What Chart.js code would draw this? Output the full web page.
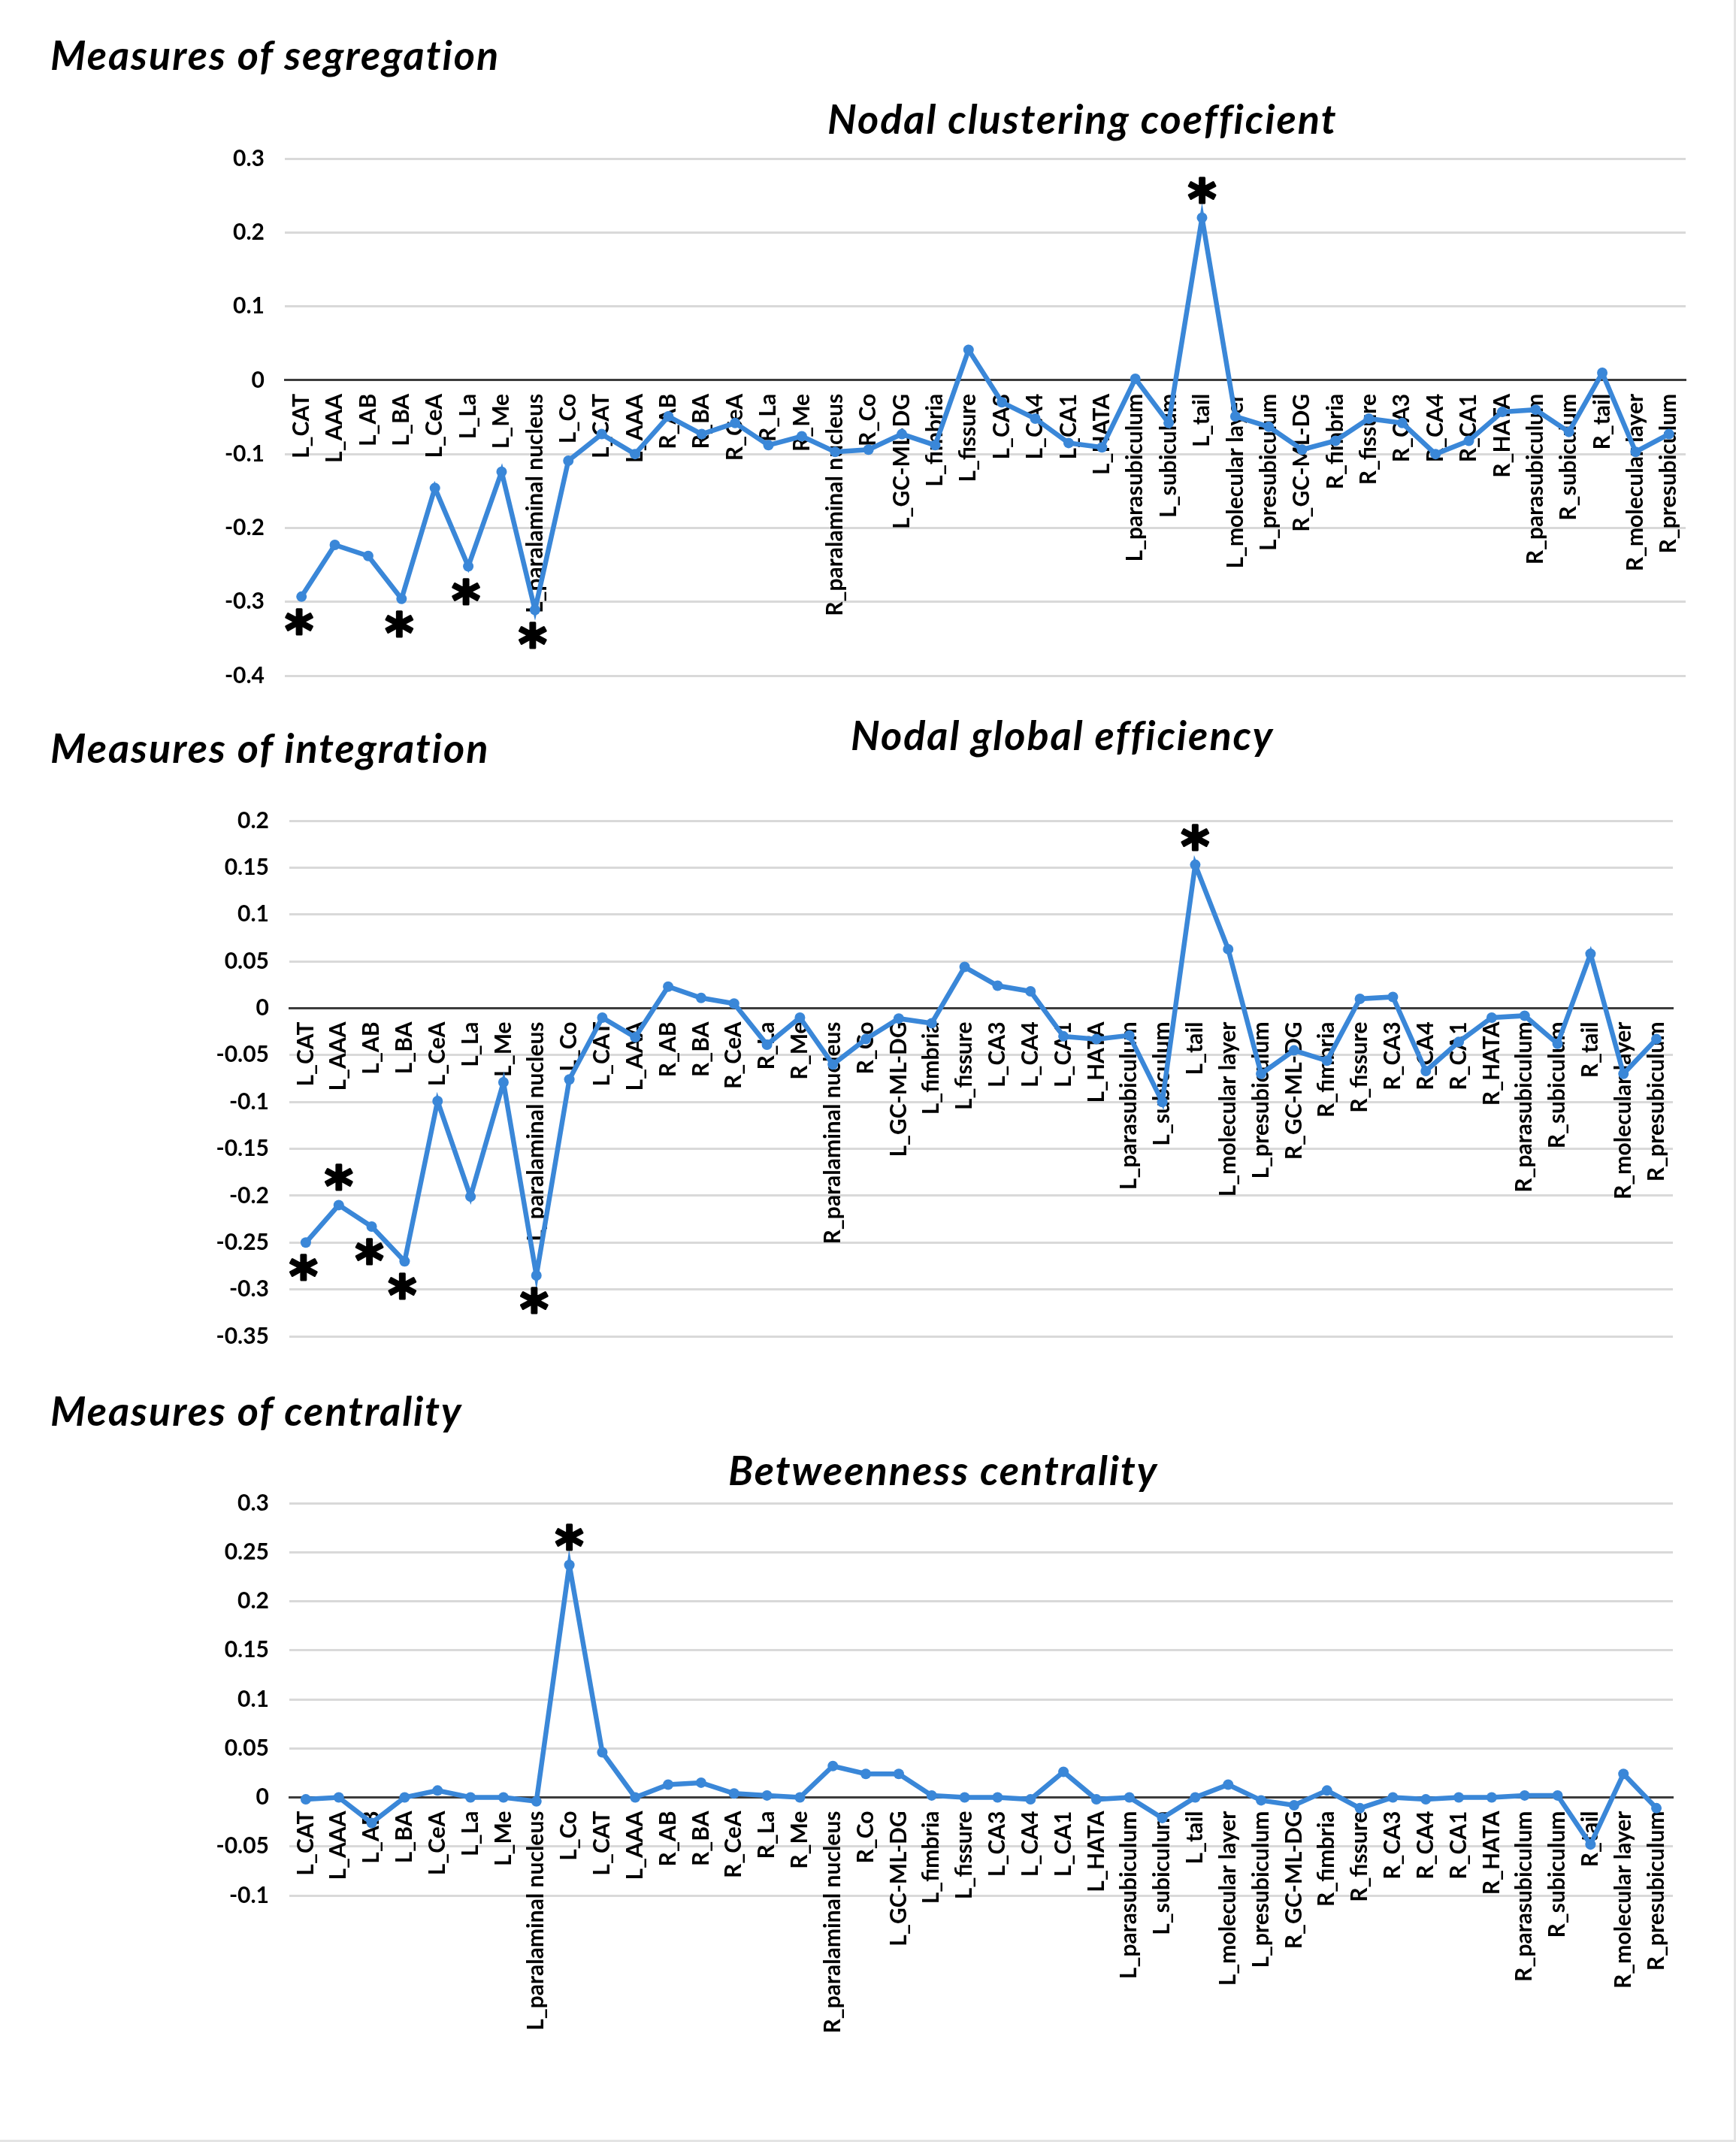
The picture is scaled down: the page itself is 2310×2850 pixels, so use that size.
<!DOCTYPE html>
<html>
<head>
<meta charset="utf-8">
<script src="https://cdn.jsdelivr.net/npm/chart.js@4.4.1/dist/chart.umd.min.js"></script>
<style>
  body{margin:0;background:#fff;}
  .page{position:relative;width:2310px;height:2850px;background:#fff;overflow:hidden;
        border-right:3px solid #e4e4e4;border-bottom:3px solid #e4e4e4;box-sizing:border-box;}
  .hdr{position:absolute;font-family:Lato,"Open Sans",sans-serif;font-weight:700;font-style:italic;
       font-size:54px;letter-spacing:2px;line-height:1;color:#000;white-space:nowrap;z-index:2;}
  canvas{position:absolute;left:0;}
</style>
</head>
<body>
<div class="page">
  <div class="hdr" style="left:67px;top:46px;">Measures of segregation</div>
  <div class="hdr" style="left:1101px;top:131px;">Nodal clustering coefficient</div>
  <div class="hdr" style="left:67px;top:968px;">Measures of integration</div>
  <div class="hdr" style="left:1132px;top:951px;">Nodal global efficiency</div>
  <div class="hdr" style="left:67px;top:1850px;">Measures of centrality</div>
  <div class="hdr" style="left:969px;top:1929px;">Betweenness centrality</div>

  <canvas id="chart_seg" width="2310" height="793" style="top:151px;"></canvas>
  <canvas id="chart_int" width="2310" height="791" style="top:1032px;"></canvas>
  <canvas id="chart_cen" width="2310" height="832" style="top:1940px;"></canvas>
</div>

<script>
var regions = ["L_CAT","L_AAA","L_AB","L_BA","L_CeA","L_La","L_Me","L_paralaminal nucleus","L_Co",
  "L_CAT","L_AAA","R_AB","R_BA","R_CeA","R_La","R_Me","R_paralaminal nucleus","R_Co",
  "L_GC-ML-DG","L_fimbria","L_fissure","L_CA3","L_CA4","L_CA1","L_HATA","L_parasubiculum",
  "L_subiculum","L_tail","L_molecular layer","L_presubiculum","R_GC-ML-DG","R_fimbria","R_fissure",
  "R_CA3","R_CA4","R_CA1","R_HATA","R_parasubiculum","R_subiculum","R_tail","R_molecular layer",
  "R_presubiculum"];

// nodal clustering coefficient
var clustering = [-0.293,-0.223,-0.238,-0.296,-0.146,-0.252,-0.124,-0.311,-0.109,
  -0.073,-0.100,-0.049,-0.073,-0.058,-0.088,-0.076,-0.097,-0.094,
  -0.073,-0.088,0.041,-0.030,-0.052,-0.085,-0.091,0.002,
  -0.058,0.220,-0.049,-0.063,-0.094,-0.082,-0.052,
  -0.058,-0.100,-0.082,-0.043,-0.040,-0.070,0.010,-0.097,-0.073];

// nodal global efficiency
var efficiency = [-0.250,-0.210,-0.233,-0.270,-0.099,-0.201,-0.079,-0.285,-0.076,
  -0.010,-0.031,0.023,0.011,0.005,-0.039,-0.010,-0.060,-0.033,
  -0.011,-0.016,0.044,0.024,0.018,-0.030,-0.033,-0.029,
  -0.100,0.153,0.063,-0.070,-0.045,-0.056,0.010,
  0.012,-0.067,-0.036,-0.010,-0.008,-0.038,0.058,-0.070,-0.033];

// betweenness centrality
var betweenness = [-0.002,0,-0.026,0,0.007,0,0,-0.004,0.237,
  0.046,0,0.013,0.015,0.004,0.002,0,0.032,0.024,
  0.024,0.002,0,0,-0.002,0.026,-0.002,0,
  -0.021,0,0.013,-0.003,-0.008,0.007,-0.011,
  0,-0.002,0,0,0.002,0.002,-0.048,0.024,-0.011];

// y axis ticks
var segTicks = {min:-0.4, max:0.3, step:0.1};
var intTicks = {min:-0.35, max:0.2, step:0.05};
var cenTicks = {min:-0.1, max:0.3, step:0.05};

// significant regions (index into regions), star above or below the point
var segStarsAbove = [27];
var segStarsBelow = [0,3,5,7];
var intStarsAbove = [1,27];
var intStarsBelow = [0,2,3,7];
var cenStarsAbove = [8];
var cenStarsBelow = [];

var LINE_BLUE = "#3a87d8";
var LABEL_FONT = "Lato";

var starPlugin = {
  id:"stars",
  afterDatasetsDraw(chart, args, opts){
    var meta = chart.getDatasetMeta(0);
    var ctx = chart.ctx;
    ctx.save();
    ctx.font = "bold 72px 'DejaVu Sans'";
    ctx.fillStyle = "#000";
    ctx.strokeStyle = "#000";
    ctx.lineWidth = 3;
    ctx.lineJoin = "round";
    ctx.textAlign = "center";
    ctx.textBaseline = "alphabetic";
    var m = ctx.measureText("*");
    var shift = (m.actualBoundingBoxAscent - m.actualBoundingBoxDescent)/2;
    function star(x, y){
      ctx.fillText("*", x, y + shift);
      ctx.strokeText("*", x, y + shift);
    }
    (opts.above || []).forEach(function(i){
      var p = meta.data[i];
      star(p.x, p.y - 37);
    });
    (opts.below || []).forEach(function(i){
      var p = meta.data[i];
      star(p.x - 3, p.y + 33);
    });
    ctx.restore();
  }
};

function RenderChart(id, values, ticks, above, below, pad){

  var ctx = document.getElementById(id);

  new Chart(ctx, {
    type:"line",
    data:{
      labels:regions,
      datasets:[{
        data:values,
        borderColor:LINE_BLUE,
        backgroundColor:LINE_BLUE,
        borderWidth:6.5,
        pointRadius:7,
        pointHoverRadius:7,
        pointBackgroundColor:LINE_BLUE,
        pointBorderWidth:0,
        tension:0,
        clip:false
      }]
    },
    plugins:[starPlugin],
    options:{
      responsive:false,
      animation:false,
      devicePixelRatio:1,
      layout:{padding:pad},
      plugins:{
        legend:{display:false},
        tooltip:{enabled:false},
        stars:{above:above, below:below}
      },
      scales:{
        x:{
          type:"category",
          offset:true,
          position:{y:0},
          afterFit:function(s){ s.height = 0; },
          grid:{display:false, drawTicks:false, offset:true},
          border:{display:true, color:"#3c3c3c", width:3},
          ticks:{
            autoSkip:false,
            minRotation:90,
            maxRotation:90,
            padding:18,
            color:"#000",
            font:{family:LABEL_FONT, size:30, weight:"bold"}
          }
        },
        y:{
          min:ticks.min,
          max:ticks.max,
          afterFit:function(s){ s.width = 130; },
          border:{display:false},
          grid:{
            drawTicks:false,
            lineWidth:3,
            color:function(c){ return (c.tick && Math.abs(c.tick.value) < 1e-9) ? "rgba(0,0,0,0)" : "#d9d9d9"; }
          },
          ticks:{
            stepSize:ticks.step,
            padding:27,
            color:"#000",
            font:{family:LABEL_FONT, size:30, weight:"bold"},
            callback:function(v){ return String(Math.round(v*100)/100); }
          }
        }
      }
    }
  });

}

function Init(){
  RenderChart("chart_seg", clustering, segTicks, segStarsAbove, segStarsBelow,
    {left:249, right:67, top:60, bottom:40});
  RenderChart("chart_int", efficiency, intTicks, intStarsAbove, intStarsBelow,
    {left:255, right:84, top:60, bottom:40});
  RenderChart("chart_cen", betweenness, cenTicks, cenStarsAbove, cenStarsBelow,
    {left:255, right:84, top:60, bottom:250});
}

Init();
</script>
</body>
</html>
